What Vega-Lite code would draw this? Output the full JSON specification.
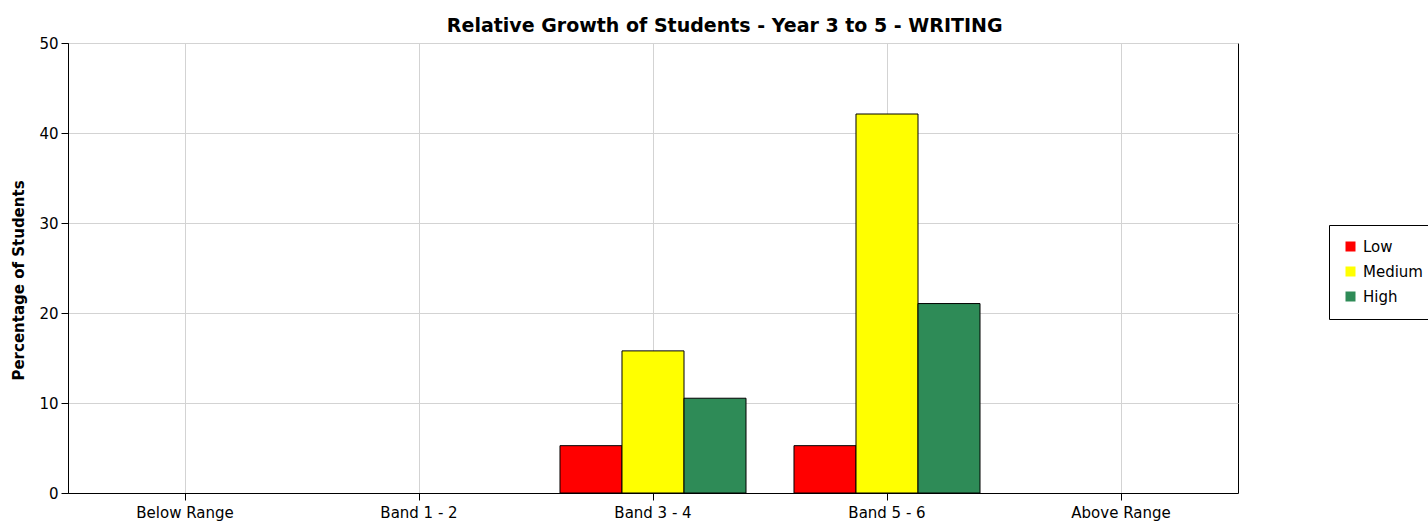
{
  "$schema": "https://vega.github.io/schema/vega-lite/v6.json",
  "width": 1170,
  "height": 450,
  "autosize": {"type": "none"},
  "padding": {"left": 68, "top": 43, "right": 190, "bottom": 30},
  "background": "white",
  "config": {
    "font": "DejaVu Sans",
    "view": {"stroke": "black", "strokeWidth": 1}
  },
  "title": {
    "text": "Relative Growth of Students - Year 3 to 5 - WRITING",
    "fontSize": 19,
    "fontWeight": "bold",
    "font": "DejaVu Sans",
    "color": "black",
    "anchor": "middle",
    "frame": "bounds",
    "offset": 0
  },
  "data": {
    "values": [
      {"band": "Band 3 - 4", "growth": "Low", "pct": 5.26},
      {"band": "Band 3 - 4", "growth": "Medium", "pct": 15.79},
      {"band": "Band 3 - 4", "growth": "High", "pct": 10.53},
      {"band": "Band 5 - 6", "growth": "Low", "pct": 5.26},
      {"band": "Band 5 - 6", "growth": "Medium", "pct": 42.11},
      {"band": "Band 5 - 6", "growth": "High", "pct": 21.05}
    ]
  },
  "mark": {"type": "bar", "stroke": "black", "strokeWidth": 1},
  "encoding": {
    "x": {
      "field": "band",
      "type": "nominal",
      "sort": null,
      "scale": {
        "domain": ["Below Range", "Band 1 - 2", "Band 3 - 4", "Band 5 - 6", "Above Range"],
        "paddingInner": 0.205,
        "paddingOuter": 0.1025
      },
      "axis": {
        "title": null,
        "labelAngle": 0,
        "labelFontSize": 15,
        "labelColor": "black",
        "labelPadding": 5,
        "grid": true,
        "gridColor": "#d3d3d3",
        "bandPosition": 0.5,
        "domainColor": "black",
        "tickColor": "black",
        "tickSize": 7
      }
    },
    "xOffset": {
      "field": "growth",
      "type": "nominal",
      "sort": ["Low", "Medium", "High"],
      "scale": {"paddingInner": 0, "paddingOuter": 0}
    },
    "y": {
      "field": "pct",
      "type": "quantitative",
      "scale": {"domain": [0, 50], "nice": false},
      "axis": {
        "title": "Percentage of Students",
        "titleFontSize": 15,
        "titleFontWeight": "bold",
        "titleColor": "black",
        "titlePadding": 12,
        "titleY": 237,
        "values": [0, 10, 20, 30, 40, 50],
        "labelFontSize": 15,
        "labelColor": "black",
        "labelPadding": 3,
        "gridColor": "#d3d3d3",
        "domainColor": "black",
        "tickColor": "black",
        "tickSize": 7
      }
    },
    "color": {
      "field": "growth",
      "type": "nominal",
      "sort": ["Low", "Medium", "High"],
      "scale": {
        "domain": ["Low", "Medium", "High"],
        "range": ["#FF0000", "#FFFF00", "#2E8B57"]
      },
      "legend": {
        "title": null,
        "orient": "none",
        "legendX": 1261,
        "legendY": 182,
        "symbolType": "square",
        "symbolSize": 100,
        "symbolStrokeWidth": 0,
        "labelFontSize": 15,
        "labelColor": "black",
        "labelOffset": 5,
        "rowPadding": 9,
        "strokeColor": "black",
        "padding": 14,
        "fillColor": "white"
      }
    }
  }
}
